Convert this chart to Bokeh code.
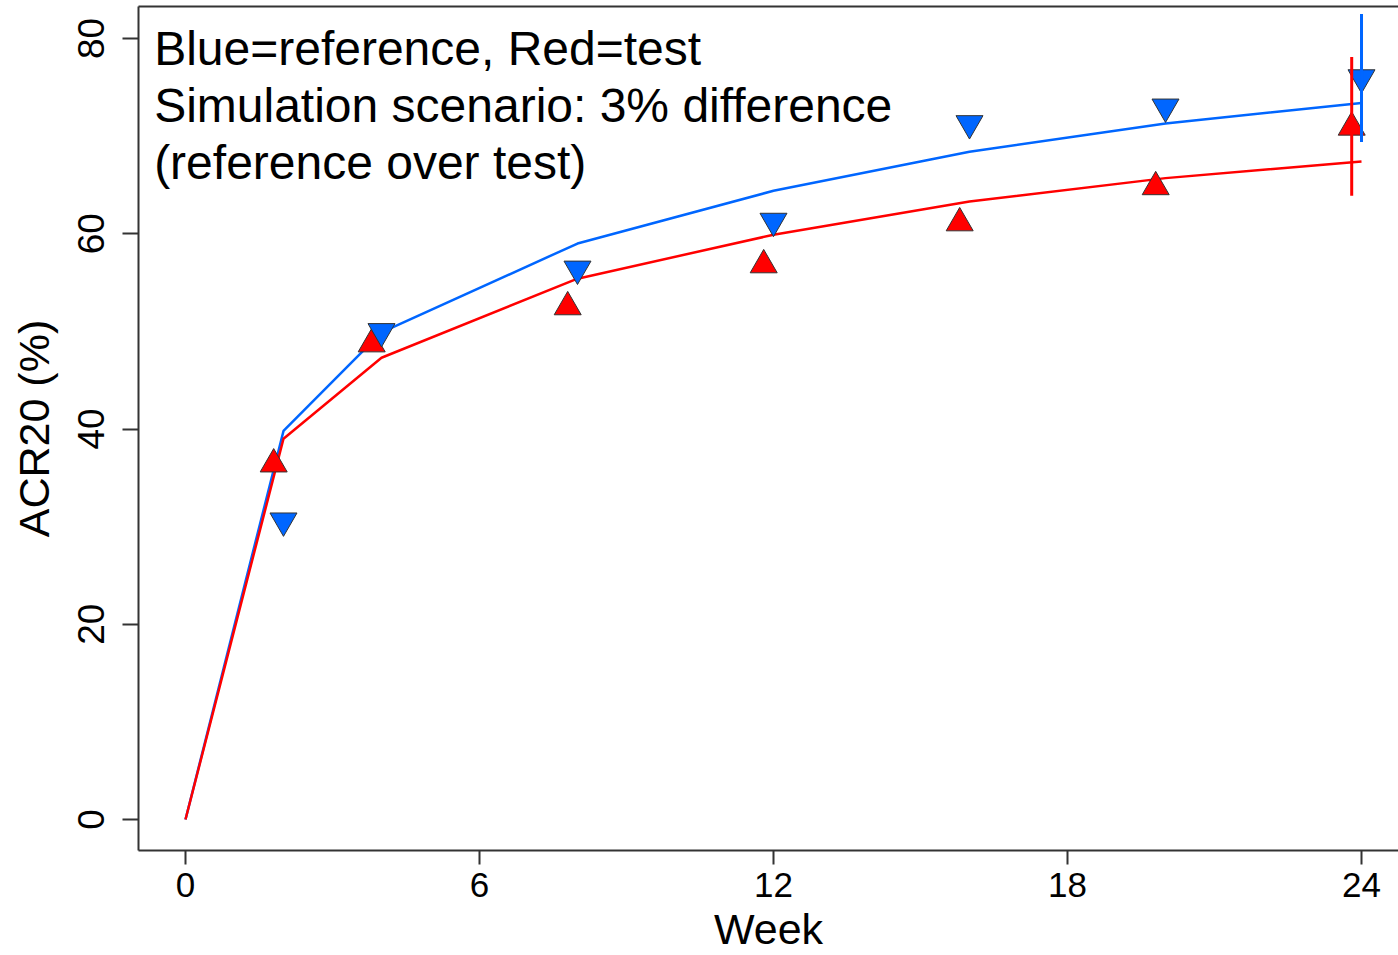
from bokeh.plotting import figure
from bokeh.models import Range1d, LinearAxis, FixedTicker, Label, ColumnDataSource
from bokeh.embed import file_html
from bokeh.resources import INLINE

# ---------------- data ----------------
weeks = [0, 2, 4, 8, 12, 16, 20, 24]
ref_fit = [0, 39.8, 49.9, 59.0, 64.4, 68.4, 71.3, 73.4]
test_fit = [0, 39.0, 47.3, 55.4, 59.9, 63.3, 65.7, 67.4]

obs_weeks = [2, 4, 8, 12, 16, 20, 24]
ref_obs = [30.6, 50.0, 56.4, 61.3, 71.3, 73.0, 76.0]
test_obs = [36.4, 48.7, 52.5, 56.8, 61.1, 64.8, 70.9]

ci_week = [24]
ref_ci_low = [69.4]
ref_ci_high = [82.5]
test_ci_low = [63.9]
test_ci_high = [78.1]

x_ticks = [0, 6, 12, 18, 24]
y_ticks = [0, 20, 40, 60, 80]
x_title = "Week"
y_title = "ACR20 (%)"
note_lines = ["Blue=reference, Red=test",
              "Simulation scenario: 3% difference",
              "(reference over test)"]

# ---------------- style ----------------
BLUE = "#0066FF"
RED = "#FF0000"
EDGE = "#333333"
FONT = "Liberation Sans"
TEST_DODGE = -0.2

p = figure(width=1398, height=955, output_backend="svg", toolbar_location=None,
           x_range=Range1d(-0.959, 24.755), y_range=Range1d(-3.175, 83.28),
           min_border_left=138, min_border_right=0, min_border_top=6,
           min_border_bottom=105, background_fill_color="white",
           border_fill_color="white")
p.outline_line_color = None
p.grid.visible = False

for ax in (p.xaxis[0], p.yaxis[0]):
    ax.axis_line_color = EDGE
    ax.axis_line_width = 2
    ax.major_tick_line_color = EDGE
    ax.major_tick_line_width = 2
    ax.major_tick_in = 0
    ax.minor_tick_line_color = None
    ax.major_label_text_font = FONT
    ax.major_label_text_font_size = "35px"
    ax.major_label_text_color = "black"
    ax.axis_label_text_font = FONT
    ax.axis_label_text_font_size = "43px"
    ax.axis_label_text_font_style = "normal"
    ax.axis_label_text_color = "black"

p.xaxis[0].ticker = FixedTicker(ticks=x_ticks)
p.xaxis[0].major_tick_out = 14
p.xaxis[0].major_label_standoff = 8
p.xaxis[0].axis_label = x_title
p.xaxis[0].axis_label_standoff = 5

p.yaxis[0].ticker = FixedTicker(ticks=y_ticks)
p.yaxis[0].major_tick_out = 16
p.yaxis[0].major_label_standoff = 18
p.yaxis[0].major_label_text_font_size = "37px"
p.yaxis[0].major_label_orientation = "parallel"
p.yaxis[0].axis_label = y_title
p.yaxis[0].axis_label_standoff = 18

# top border as an empty axis
top = LinearAxis(ticker=FixedTicker(ticks=[]), major_label_text_font_size="0px",
                 major_tick_out=0, major_tick_in=0, minor_tick_out=0, minor_tick_in=0,
                 axis_line_color=EDGE, axis_line_width=2, major_label_standoff=0)
p.add_layout(top, "above")

# ---------------- glyphs ----------------
fit_src = ColumnDataSource(dict(week=weeks, ref=ref_fit, test=test_fit))
p.line("week", "ref", source=fit_src, line_color=BLUE, line_width=2.5)
p.line("week", "test", source=fit_src, line_color=RED, line_width=2.5)

obs_src = ColumnDataSource(dict(
    week=obs_weeks,
    week_test=[w + TEST_DODGE for w in obs_weeks],
    ref=ref_obs, test=test_obs))
p.scatter("week_test", "test", source=obs_src, marker="triangle", size=27,
          fill_color=RED, line_color=EDGE, line_width=1)
p.scatter("week", "ref", source=obs_src, marker="inverted_triangle", size=27,
          fill_color=BLUE, line_color=EDGE, line_width=1)

p.segment(x0=[w + TEST_DODGE for w in ci_week], y0=test_ci_low,
          x1=[w + TEST_DODGE for w in ci_week], y1=test_ci_high,
          line_color=RED, line_width=3)
p.segment(x0=ci_week, y0=ref_ci_low, x1=ci_week, y1=ref_ci_high,
          line_color=BLUE, line_width=3)

# ---------------- annotation text ----------------
for i, line in enumerate(note_lines):
    p.add_layout(Label(x=-0.64, y=79.0 - i * 5.84, text=line,
                       text_font=FONT, text_font_size="48px",
                       text_color="black", text_baseline="alphabetic",
                       text_align="left"))

open("out.html", "w").write(file_html(p, INLINE))
